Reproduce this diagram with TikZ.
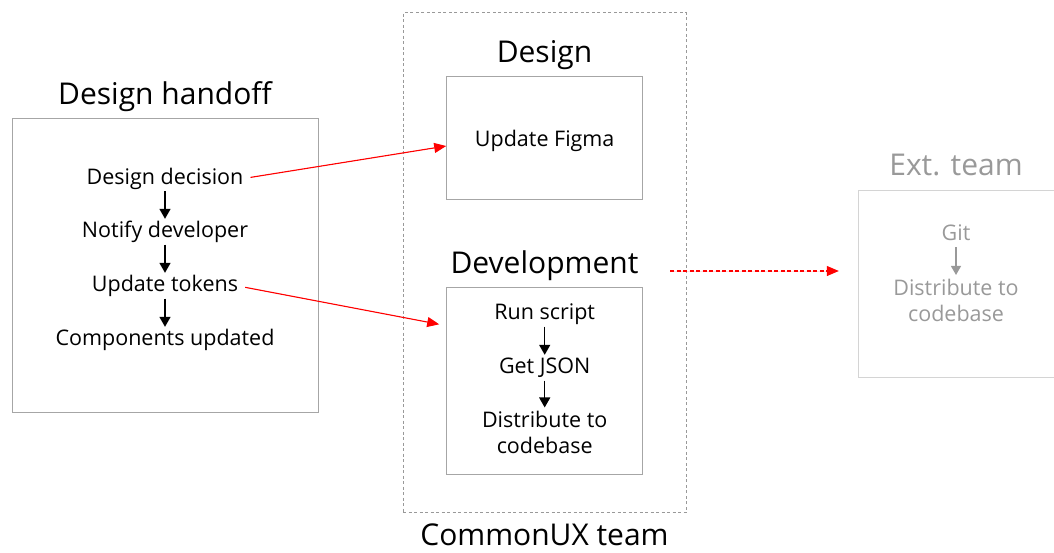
\documentclass[tikz,border=0pt]{standalone}
\usepackage{fontspec}
\setmainfont{Open Sans}
\usetikzlibrary{arrows.meta,calc}
\definecolor{boxgray}{HTML}{A6A6A6}
\definecolor{extgray}{HTML}{999999}
\definecolor{extline}{HTML}{D4D4D4}
\tikzset{
  x=1pt,y=-1pt,
  txt/.style={inner sep=0pt,anchor=base,align=center,font=\fontsize{21.5}{26.5}\selectfont,text height=15pt,text depth=4pt},
  txtml/.style={inner sep=0pt,anchor=base,align=center,font=\fontsize{21.5}{26}\selectfont},
  ttl/.style={inner sep=0pt,anchor=base,font=\fontsize{30}{36}\selectfont},
  panel/.style={draw=boxgray,line width=1pt,inner sep=0pt},
  flow/.style={-{Triangle[width=11pt,length=10pt]},line width=1.4pt,shorten <=3pt,shorten >=3.5pt},
  redarrow/.style={-{Triangle[width=10pt,length=12pt]},draw=red,fill=red,line width=1.1pt},
}
\begin{document}
\begin{tikzpicture}
\useasboundingbox (0,0) rectangle (1054,552);
\clip (0,0) rectangle (1054,552);
% left panel
\node[ttl] (hoTitle) at (165,104) {Design handoff};
\node[panel,minimum width=306pt,minimum height=294pt] (hoBox) at (165,265) {};
\node[txt] (dd) at (165,184) {Design decision};
\node[txt] (nd) at (165,237.5) {Notify developer};
\node[txt] (ut) at (165,291.5) {Update tokens};
\node[txt] (cu) at (165,345.5) {Components updated};
\draw[flow] (dd.south) -- (nd.north);
\draw[flow] (nd.south) -- (ut.north);
\draw[flow] (ut.south) -- (cu.north);
% CommonUX team
\node[draw=extgray,line width=0.9pt,dash pattern=on 3pt off 2.5pt,minimum width=283pt,minimum height=500pt,inner sep=0pt] (cuxBox) at (544.5,262.5) {};
\node[ttl] (cuxTitle) at (544.5,545) {CommonUX team};
\node[ttl] (desTitle) at (544.5,62.5) {Design};
\node[panel,minimum width=196pt,minimum height=123pt] (figBox) at (544.7,138) {};
\node[txt] (fig) at (544.7,146) {Update Figma};
\node[ttl] (devTitle) at (544.5,273.3) {Development};
\node[panel,minimum width=196pt,minimum height=187pt] (devBox) at (544.7,381.3) {};
\node[txt] (rs) at (544.7,319.5) {Run script};
\node[txt] (gj) at (544.7,373.5) {Get JSON};
\node[txtml] (dc) at (544.7,453.5) {Distribute to\\codebase};
\draw[flow] (rs.south) -- (gj.north);
\draw[flow] (gj.south) -- (dc.north);
% Ext team
\node[ttl,text=extgray] (extTitle) at (956,175) {Ext. team};
\node[draw=extline,line width=1pt,inner sep=0pt,minimum width=210pt,minimum height=187pt] (extBox) at (963.3,284.3) {};
\node[txt,text=extgray] (git) at (956,240) {Git};
\node[txtml,text=extgray] (edc) at (956,321) {Distribute to\\codebase};
\draw[flow,extgray,line width=1.2pt,-{Triangle[width=10pt,length=9pt]}] (git.south) -- (edc.north);
% red connectors
\draw[redarrow,shorten <=7pt] (dd.east) -- ($(figBox.west)+(0,8)$);
\draw[redarrow,shorten <=7pt] (ut.east) -- ($(devBox.north west)+(-7,37)$);
\coordinate (dstart) at (670,271);
\draw[redarrow,dash pattern=on 4pt off 2.5pt,shorten >=19pt] (dstart) -- (extBox.west |- dstart);
\end{tikzpicture}
\end{document}
